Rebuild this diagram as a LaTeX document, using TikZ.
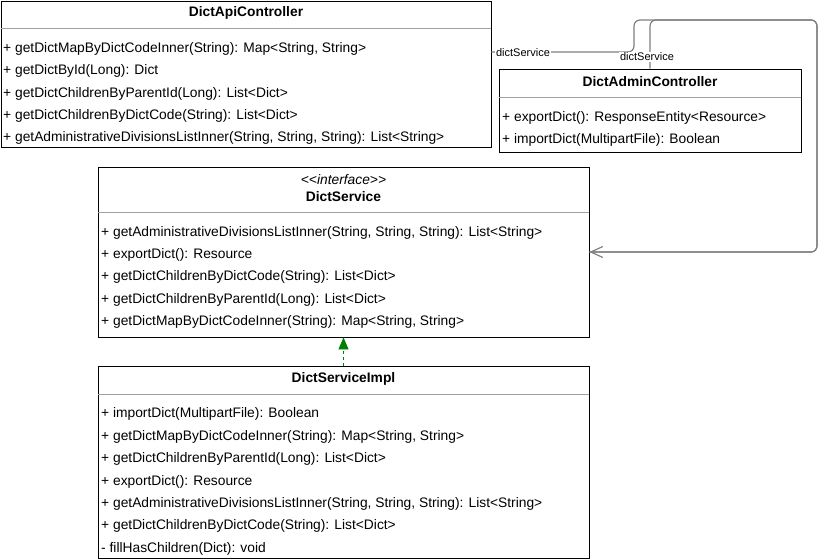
\documentclass[tikz,border=0pt]{standalone}
\usepackage{fontspec}
\setmainfont{Liberation Sans}
\usetikzlibrary{arrows.meta}
\definecolor{edgegray}{HTML}{808080}
\definecolor{sepgray}{HTML}{A0A0A0}
\definecolor{realgreen}{HTML}{008000}
\begin{document}
\begin{tikzpicture}[x = 1pt, y = -1pt,
        classbox/.style = {draw, line width = .8, inner sep = 0, fill = white},
        title/.style = {inner sep = 0, font = \fontsize{13.8}{16}\selectfont\bfseries},
        stereo/.style = {inner sep = 0, font = \fontsize{13.8}{16}\selectfont\itshape},
        member/.style = {anchor = west, inner sep = 0, font = \fontsize{13.8}{16}\selectfont},
        sepline/.style = {sepgray, line width = .8},
        assoc/.style = {edgegray, line width = 1.2, rounded corners = 6pt},
        edgelabel/.style = {fill = white, inner sep = 1pt, font = \fontsize{11}{13}\selectfont}]
        \useasboundingbox (0, 0) rectangle (832, 559);
        % classes
        \node [classbox, minimum width = 490pt, minimum height = 146pt] (api) at (246, 74) {};
        \node [classbox, minimum width = 302pt, minimum height = 83pt] (adm) at (650, 110.5) {};
        \node [classbox, minimum width = 491pt, minimum height = 170pt] (ds) at (343.5, 252) {};
        \node [classbox, minimum width = 491pt, minimum height = 192pt] (dsi) at (343.5, 462) {};
        \draw [sepline] (api.west |- 0, 28) -- (api.east |- 0, 28);
        \draw [sepline] (adm.west |- 0, 97) -- (adm.east |- 0, 97);
        \draw [sepline] (ds.west |- 0, 212) -- (ds.east |- 0, 212);
        \draw [sepline] (dsi.west |- 0, 394) -- (dsi.east |- 0, 394);
        % DictApiController
        \node [title] (apititle) at (246, 13) {DictApiController};
        \node [member] (api1) at (3, 48.5) {+ getDictMapByDictCodeInner(String): Map<String, String>};
        \node [member] (api2) at (3, 71) {+ getDictById(Long): Dict};
        \node [member] (api3) at (3, 93.5) {+ getDictChildrenByParentId(Long): List<Dict>};
        \node [member] (api4) at (3, 115.5) {+ getDictChildrenByDictCode(String): List<Dict>};
        \node [member] (api5) at (3, 137.5) {+ getAdministrativeDivisionsListInner(String, String, String): List<String>};
        % DictAdminController
        \node [title] (admtitle) at (650, 82) {DictAdminController};
        \node [member] (adm1) at (502, 117.5) {+ exportDict(): ResponseEntity<Resource>};
        \node [member] (adm2) at (502, 139.5) {+ importDict(MultipartFile): Boolean};
        % DictService
        \node [stereo] (dsstereo) at (343.5, 180) {<{}<interface>{}>};
        \node [title] (dstitle) at (343.5, 197) {DictService};
        \node [member] (ds1) at (101, 232.5) {+ getAdministrativeDivisionsListInner(String, String, String): List<String>};
        \node [member] (ds2) at (101, 254.5) {+ exportDict(): Resource};
        \node [member] (ds3) at (101, 276.5) {+ getDictChildrenByDictCode(String): List<Dict>};
        \node [member] (ds4) at (101, 299.5) {+ getDictChildrenByParentId(Long): List<Dict>};
        \node [member] (ds5) at (101, 321.5) {+ getDictMapByDictCodeInner(String): Map<String, String>};
        % DictServiceImpl
        \node [title] (dsititle) at (343.5, 379) {DictServiceImpl};
        \node [member] (dsi1) at (101, 413.5) {+ importDict(MultipartFile): Boolean};
        \node [member] (dsi2) at (101, 436.5) {+ getDictMapByDictCodeInner(String): Map<String, String>};
        \node [member] (dsi3) at (101, 458.5) {+ getDictChildrenByParentId(Long): List<Dict>};
        \node [member] (dsi4) at (101, 481.5) {+ exportDict(): Resource};
        \node [member] (dsi5) at (101, 503.5) {+ getAdministrativeDivisionsListInner(String, String, String): List<String>};
        \node [member] (dsi6) at (101, 525.5) {+ getDictChildrenByDictCode(String): List<Dict>};
        \node [member] (dsi7) at (101, 548.5) {- fillHasChildren(Dict): void};
        % relations
        \draw [realgreen, line width = .8, dashed, dash pattern = on 3pt off 3pt, -{Triangle[length = 12pt, width = 10pt, fill = realgreen]}] (dsi.north) -- (ds.south);
        \draw [assoc] (api.east |- 0, 52) -| (634, 20) -| (817, 252) -- (ds.east);
        \draw [assoc, -{Straight Barb[length = 12pt, width = 11pt]}] (adm.north) -- (650, 20) -| (817, 252) -- (ds.east);
        \node [edgelabel] (apilabel) at (523, 53) {dictService};
        \node [edgelabel] (admlabel) at (647, 57) {dictService};
\end{tikzpicture}
\end{document}
